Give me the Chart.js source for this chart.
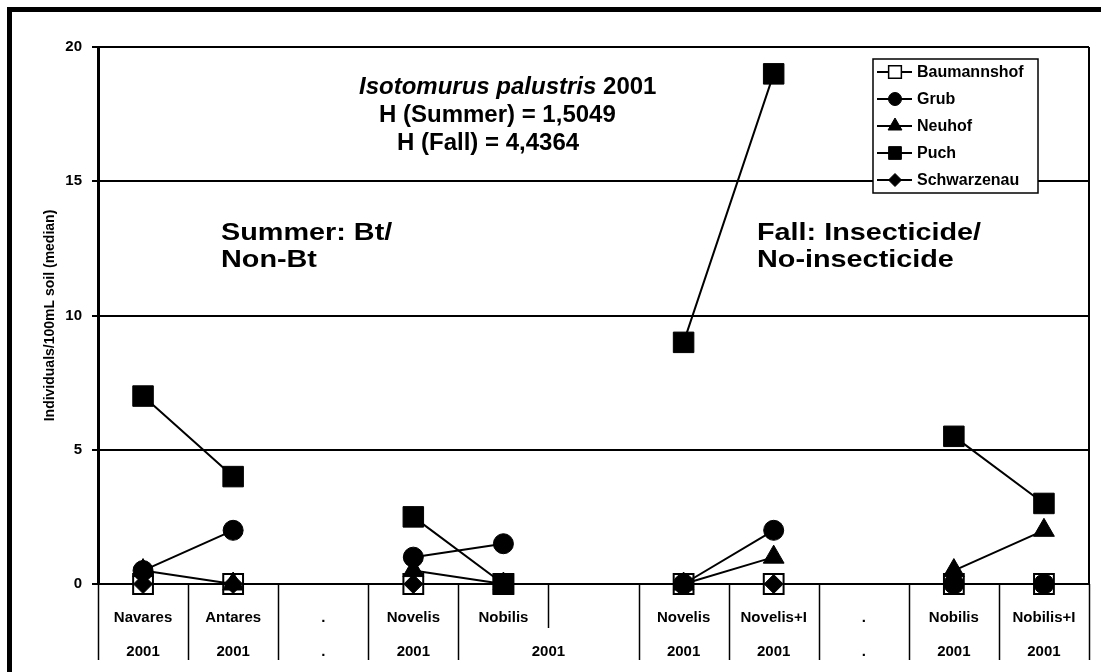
<!DOCTYPE html>
<html>
<head>
<meta charset="utf-8">
<title>Isotomurus palustris 2001</title>
<script src="https://cdn.jsdelivr.net/npm/chart.js@4.4.1/dist/chart.umd.min.js"></script>
<style>
  html, body { margin: 0; padding: 0; background: #fff; }
  canvas { display: block; }
</style>
</head>
<body>
<canvas id="speciesChart" width="1101" height="672"></canvas>
<script>
// Median counts per site and variety, 2001
const categories = ['Navares', 'Antares', '.', 'Novelis', 'Nobilis', '', 'Novelis', 'Novelis+I', '.', 'Nobilis', 'Nobilis+I'];
const yearLabels = ['2001', '2001', '.', '2001', '2001', '2001', '2001', '.', '2001', '2001'];
const yearSpans = [1, 1, 1, 1, 2, 1, 1, 1, 1, 1];
const yTicks = [0, 5, 10, 15, 20];

const baumannshof = [0, 0, null, 0, 0, null, 0, 0, null, 0, 0];
const grub = [0.5, 2, null, 1, 1.5, null, 0, 2, null, 0, 0];
const neuhof = [0.5, 0, null, 0.5, 0, null, 0, 1, null, 0.5, 2];
const puch = [7, 4, null, 2.5, 0, null, 9, 19, null, 5.5, 3];
const schwarzenau = [0, 0, null, 0, 0, null, 0, 0, null, 0, 0];

const speciesName = 'Isotomurus palustris';
const speciesYear = '2001';
const diversity = ['H (Summer) = 1,5049', 'H (Fall) = 4,4364'];
const summerNote = ['Summer: Bt/', 'Non-Bt'];
const fallNote = ['Fall: Insecticide/', 'No-insecticide'];

const FONT = "'Liberation Sans', Arial, Helvetica, sans-serif";

function series(label, data, style, extra) {
    return Object.assign({
        label: label,
        data: data,
        borderColor: '#000',
        backgroundColor: '#000',
        borderWidth: 2,
        pointStyle: style,
        pointBorderColor: '#000',
        pointBackgroundColor: '#000',
        pointBorderWidth: 1,
        pointHoverRadius: 0,
        spanGaps: false,
        clip: false,
        tension: 0
    }, extra);
}

// Draw a marker the same way the datasets do
function marker(ctx, style, radius, x, y, fill, bw) {
    ctx.fillStyle = fill;
    ctx.strokeStyle = '#000';
    ctx.lineWidth = bw;
    if (Chart.helpers && Chart.helpers.drawPoint) {
        Chart.helpers.drawPoint(ctx, { pointStyle: style, radius: radius, rotation: 0, borderWidth: bw }, x, y);
    } else {
        ctx.beginPath();
        ctx.arc(x, y, radius, 0, Math.PI * 2);
        ctx.fill();
        ctx.stroke();
    }
}

function stretchedText(ctx, text, x, y, sx) {
    ctx.save();
    ctx.translate(x, y);
    ctx.scale(sx, 1);
    ctx.fillText(text, 0, 0);
    ctx.restore();
}

const decorations = {
    id: 'decorations',
    beforeDraw(chart) {
        const ctx = chart.ctx;
        ctx.save();
        ctx.fillStyle = '#fff';
        ctx.fillRect(0, 0, chart.width, chart.height);
        ctx.restore();
    },
    afterDraw(chart) {
        const ctx = chart.ctx;
        const area = chart.chartArea;
        const xs = chart.scales.x;
        const step = xs.getPixelForValue(1) - xs.getPixelForValue(0);
        const edge = i => xs.getPixelForValue(i) - step / 2;

        ctx.save();
        ctx.strokeStyle = '#000';
        ctx.fillStyle = '#000';

        // plot area right border
        ctx.lineWidth = 2;
        ctx.beginPath();
        ctx.moveTo(area.right, area.top);
        ctx.lineTo(area.right, area.bottom);
        ctx.stroke();

        // category separators, long where a year group ends
        const groupEdges = [0];
        yearSpans.forEach(s => groupEdges.push(groupEdges[groupEdges.length - 1] + s));
        ctx.lineWidth = 1.5;
        for (let i = 0; i <= categories.length; i++) {
            const px = Math.round(edge(i)) + 0.5;
            const len = groupEdges.includes(i) ? 76 : 44;
            ctx.beginPath();
            ctx.moveTo(px, area.bottom);
            ctx.lineTo(px, area.bottom + len);
            ctx.stroke();
        }

        // second row of category labels
        ctx.font = 'bold 15px ' + FONT;
        ctx.textAlign = 'center';
        ctx.textBaseline = 'middle';
        yearLabels.forEach((label, g) => {
            const from = groupEdges[g];
            const to = groupEdges[g + 1] - 1;
            const cx = (xs.getPixelForValue(from) + xs.getPixelForValue(to)) / 2;
            ctx.fillText(label, cx, area.bottom + 68);
        });

        // species heading and diversity indices
        ctx.textAlign = 'left';
        ctx.textBaseline = 'alphabetic';
        ctx.font = 'italic bold 24px ' + FONT;
        ctx.fillText(speciesName, 359, 94);
        const w = ctx.measureText(speciesName + ' ').width;
        ctx.font = 'bold 24px ' + FONT;
        ctx.fillText(speciesYear, 359 + w, 94);
        ctx.fillText(diversity[0], 379, 122);
        ctx.fillText(diversity[1], 397, 150);

        // season notes
        ctx.font = 'bold 24px ' + FONT;
        stretchedText(ctx, summerNote[0], 221, 240, 1.2);
        stretchedText(ctx, summerNote[1], 221, 267, 1.2);
        stretchedText(ctx, fallNote[0], 757, 240, 1.2);
        stretchedText(ctx, fallNote[1], 757, 267, 1.2);

        // legend box
        const lx = area.right - 216;
        const ly = area.top + 12;
        ctx.fillStyle = '#fff';
        ctx.fillRect(lx, ly, 165, 134);
        ctx.lineWidth = 1.5;
        ctx.strokeRect(lx, ly, 165, 134);
        const legendMarks = [
            { style: 'rect', r: 9, fill: '#fff', bw: 1.5 },
            { style: 'circle', r: 6.5, fill: '#000', bw: 1 },
            { style: 'triangle', r: 8, fill: '#000', bw: 1 },
            { style: 'rect', r: 9, fill: '#000', bw: 1 },
            { style: 'rectRot', r: 6.5, fill: '#000', bw: 1 }
        ];
        ctx.font = 'bold 16px ' + FONT;
        ctx.textBaseline = 'middle';
        chart.data.datasets.forEach((ds, i) => {
            const y = ly + 13 + i * 27;
            ctx.strokeStyle = '#000';
            ctx.lineWidth = 2;
            ctx.beginPath();
            ctx.moveTo(lx + 4, y);
            ctx.lineTo(lx + 39, y);
            ctx.stroke();
            const m = legendMarks[i];
            marker(ctx, m.style, m.r, lx + 22, y, m.fill, m.bw);
            ctx.fillStyle = '#000';
            ctx.fillText(ds.label, lx + 44, y + 1);
        });

        // outer frame
        ctx.lineWidth = 5;
        ctx.strokeStyle = '#000';
        ctx.strokeRect(9.5, 9.5, chart.width + 20, chart.height + 20);
        ctx.restore();
    }
};

const chart = new Chart(document.getElementById('speciesChart'), {
    type: 'line',
    data: {
        labels: categories,
        datasets: [
            series('Baumannshof', baumannshof, 'rect', { pointRadius: 14, pointBackgroundColor: '#fff', pointBorderWidth: 2, order: 5 }),
            series('Grub', grub, 'circle', { pointRadius: 10, order: 4 }),
            series('Neuhof', neuhof, 'triangle', { pointRadius: 12, order: 3 }),
            series('Puch', puch, 'rect', { pointRadius: 14.5, order: 2 }),
            series('Schwarzenau', schwarzenau, 'rectRot', { pointRadius: 9.5, order: 1 })
        ]
    },
    options: {
        responsive: false,
        animation: false,
        devicePixelRatio: 1,
        layout: { autoPadding: false, padding: { top: 47, right: 12, bottom: 0, left: 0 } },
        plugins: {
            legend: { display: false },
            tooltip: { enabled: false }
        },
        scales: {
            x: {
                type: 'category',
                offset: true,
                grid: { display: false, drawTicks: false },
                border: { display: false },
                ticks: {
                    color: '#000',
                    font: { family: FONT, size: 15, weight: 'bold' },
                    padding: 25,
                    maxRotation: 0,
                    autoSkip: false
                },
                afterFit(scale) {
                    scale.height = 88;
                    scale.paddingLeft = 0;
                    scale.paddingRight = 0;
                }
            },
            y: {
                min: 0,
                max: 20,
                afterBuildTicks(scale) { scale.ticks = yTicks.map(v => ({ value: v })); },
                grid: {
                    color: '#000',
                    lineWidth: 2,
                    drawTicks: true,
                    tickLength: 6,
                    tickWidth: 2,
                    tickColor: '#000'
                },
                border: { display: true, color: '#000', width: 3 },
                ticks: {
                    color: '#000',
                    font: { family: FONT, size: 15, weight: 'bold' },
                    padding: 10
                },
                title: {
                    display: true,
                    text: 'Individuals/100mL soil (median)',
                    color: '#000',
                    font: { family: FONT, size: 14, weight: 'bold' },
                    padding: { top: 42, bottom: 0 }
                },
                afterFit(scale) { scale.width = 98; }
            }
        }
    },
    plugins: [decorations]
});
</script>
</body>
</html>
